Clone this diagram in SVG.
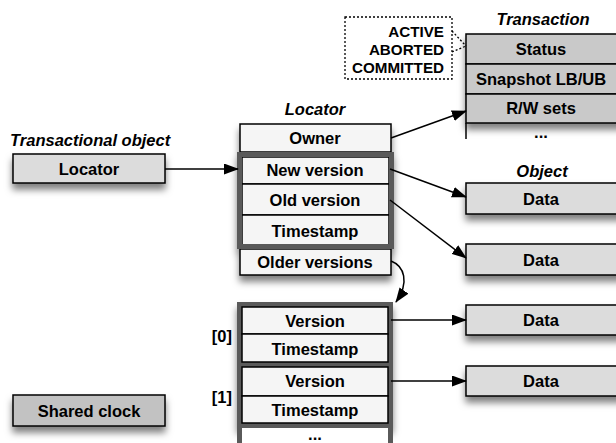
<svg xmlns="http://www.w3.org/2000/svg" width="616" height="443" viewBox="0 0 616 443">
<defs>
<filter id="sh" x="-20%" y="-30%" width="140%" height="190%">
<feDropShadow dx="0" dy="6" stdDeviation="3.5" flood-color="#000" flood-opacity="0.5"/>
</filter>
<marker id="ah" viewBox="0 0 15 11" refX="14" refY="5.5" markerWidth="15" markerHeight="11" markerUnits="userSpaceOnUse" orient="auto">
<path d="M0,0 L15,5.5 L0,11 Z" fill="#000"/>
</marker>
</defs>
<style>
text{font-family:"Liberation Sans",Arial,sans-serif;font-weight:bold;font-size:16.5px;fill:#000;text-anchor:middle}
.it{font-style:italic}
.st{font-size:15.2px;text-anchor:end}
.box{stroke:#000;stroke-width:1.5}
.g1{fill:#c9c9c9}
.g2{fill:#dcdcdc}
.g3{fill:#c2c2c2}
.w{fill:#f5f5f5}
.thick{fill:none;stroke:#5a5a5a;stroke-width:5}
.conn{fill:none;stroke:#000;stroke-width:1.5}
.dot{fill:none;stroke:#000;stroke-width:1.3;stroke-dasharray:2 2}
</style>

<g id="transaction">
<text class="it" x="543" y="25">Transaction</text>
<g filter="url(#sh)">
<rect class="box g1" x="466" y="34" width="160" height="30"/>
<rect class="box g1" x="466" y="64" width="160" height="30"/>
<rect class="box g1" x="466" y="94" width="160" height="29"/>
</g>
<line x1="466" y1="123" x2="466" y2="139" stroke="#000" stroke-width="1.5"/>
<text x="541" y="55">Status</text>
<text x="541" y="85">Snapshot LB/UB</text>
<text x="541" y="114">R/W sets</text>
<text x="541" y="138">...</text>
</g>

<g id="status-values">
<rect class="dot" x="345" y="17" width="107" height="62"/>
<text class="st" x="444" y="37">ACTIVE</text>
<text class="st" x="444" y="55">ABORTED</text>
<text class="st" x="444" y="73">COMMITTED</text>
</g>

<g id="transactional-object">
<text class="it" x="10" y="146" style="text-anchor:start">Transactional object</text>
<rect class="box g2" x="13" y="154" width="152" height="29" filter="url(#sh)"/>
<text x="89" y="175">Locator</text>
</g>

<g id="shared-clock">
<rect class="box g3" x="13" y="395" width="152" height="31" filter="url(#sh)"/>
<text x="89" y="417">Shared clock</text>
</g>

<g id="locator">
<text class="it" x="315" y="115">Locator</text>
<g filter="url(#sh)">
<rect class="box w" x="240" y="124" width="151" height="28"/>
<rect class="box w" x="240" y="249" width="151" height="26"/>
<rect x="237" y="152" width="157" height="97" fill="#5a5a5a"/>
</g>
<rect class="box w" x="242" y="157" width="147" height="27"/>
<rect class="box w" x="242" y="184" width="147" height="31"/>
<rect class="box w" x="242" y="215" width="147" height="31"/>
<rect class="thick" x="239.5" y="154.5" width="152" height="92"/>
<text x="315" y="144">Owner</text>
<text x="315" y="176">New version</text>
<text x="315" y="206">Old version</text>
<text x="315" y="237">Timestamp</text>
<text x="315" y="268">Older versions</text>
</g>

<g id="versions">
<g filter="url(#sh)">
<rect x="237" y="302" width="156" height="126" fill="#5a5a5a"/>
</g>
<rect class="box w" x="242" y="307" width="146" height="27"/>
<rect class="box w" x="242" y="334" width="146" height="28"/>
<rect class="box w" x="242" y="367" width="146" height="29"/>
<rect class="box w" x="242" y="396" width="146" height="27"/>
<rect x="242" y="428" width="146" height="15" fill="#fff"/>
<line x1="239.5" y1="425" x2="239.5" y2="443" stroke="#5a5a5a" stroke-width="5"/>
<line x1="390.5" y1="425" x2="390.5" y2="443" stroke="#5a5a5a" stroke-width="5"/>
<text x="315" y="327">Version</text>
<text x="315" y="355">Timestamp</text>
<text x="315" y="387">Version</text>
<text x="315" y="416">Timestamp</text>
<text x="315" y="440">...</text>
<text x="232" y="342" style="text-anchor:end">[0]</text>
<text x="232" y="403" style="text-anchor:end">[1]</text>
</g>

<g id="objects">
<text class="it" x="542" y="177">Object</text>
<g filter="url(#sh)">
<rect class="box g2" x="466" y="183" width="160" height="31"/>
<rect class="box g2" x="466" y="244" width="160" height="31"/>
<rect class="box g2" x="466" y="305" width="160" height="30"/>
<rect class="box g2" x="466" y="366" width="160" height="30"/>
</g>
<text x="541" y="205">Data</text>
<text x="541" y="266">Data</text>
<text x="541" y="326">Data</text>
<text x="541" y="387">Data</text>
</g>

<g id="connectors">
<line class="conn" x1="165" y1="169" x2="238" y2="169" marker-end="url(#ah)"/>
<line class="conn" x1="391" y1="138" x2="466" y2="111" marker-end="url(#ah)"/>
<line class="conn" x1="390" y1="169" x2="466" y2="197" marker-end="url(#ah)"/>
<line class="conn" x1="390" y1="200" x2="466" y2="258" marker-end="url(#ah)"/>
<path class="conn" d="M391,261 C404,266 410,282 396,302" marker-end="url(#ah)"/>
<line class="conn" x1="391" y1="320" x2="466" y2="320" marker-end="url(#ah)"/>
<line class="conn" x1="391" y1="381" x2="466" y2="381" marker-end="url(#ah)"/>
<path class="dot" d="M452,31 L466,46 M452,52 L466,46"/>
</g>
</svg>
